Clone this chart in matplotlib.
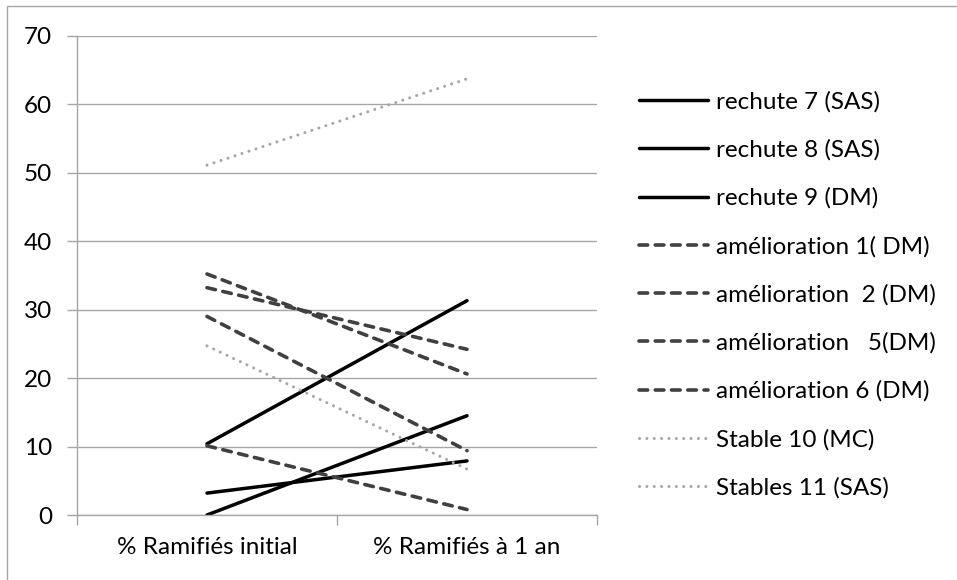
import matplotlib
matplotlib.use("Agg")
import matplotlib.pyplot as plt
from matplotlib.patches import Rectangle

plt.rcParams['font.family'] = ['Lato', 'DejaVu Sans']

categories = ["% Ramifiés initial", "% Ramifiés à 1 an"]
series_names = [
    "rechute 7 (SAS)", "rechute 8 (SAS)", "rechute 9 (DM)",
    "amélioration 1( DM)", "amélioration  2 (DM)", "amélioration   5(DM)",
    "amélioration 6 (DM)", "Stable 10 (MC)", "Stables 11 (SAS)",
]
rechute7 = [10.4, 31.3]
rechute8 = [0.0, 14.5]
rechute9 = [3.2, 7.9]
amelioration1 = [35.2, 20.6]
amelioration2 = [33.2, 24.2]
amelioration5 = [29.0, 9.4]
amelioration6 = [10.1, 0.8]
stable10 = [51.1, 63.7]
stables11 = [24.7, 6.7]
values = [rechute7, rechute8, rechute9, amelioration1, amelioration2,
          amelioration5, amelioration6, stable10, stables11]
groups = ["solid"] * 3 + ["dashed"] * 4 + ["dotted"] * 2
yticks = [0, 10, 20, 30, 40, 50, 60, 70]

W, H = 957, 580
FS = 17.5
fig = plt.figure(figsize=(W / 100, H / 100), dpi=100)
fig.patch.set_facecolor("white")
# chart border (left/top visible)
fig.patches.append(Rectangle((7 / W, -0.1), 1.2, (H - 6) / H + 0.1,
                             transform=fig.transFigure, fill=False,
                             edgecolor="#a6a6a6", lw=1.0))

ax = fig.add_axes([77 / W, (H - 515) / H, (597 - 77) / W, (515 - 35.7) / H])
xs = [0.5, 1.5]
styles = {
    "solid": dict(color="#000000", lw=2.5, linestyle="-", solid_capstyle="round"),
    "dashed": dict(color="#404040", lw=2.6, linestyle=(0, (2.4, 2.1)), dash_capstyle="round"),
    "dotted": dict(color="#a6a6a6", lw=2.2, linestyle=(0, (0.01, 2.4)), dash_capstyle="round"),
}
handles = []
for name, vals, g in zip(series_names, values, groups):
    ln, = ax.plot(xs, vals, label=name, **styles[g])
    handles.append(ln)

ax.set_xlim(0, 2)
ax.set_ylim(0, 70)
ax.set_yticks(yticks)
ax.set_yticklabels([str(t) for t in yticks])
ax.set_xticks([0, 1, 2])
ax.set_xticklabels(["", "", ""])
ax.set_xticks(xs, minor=True)
ax.set_xticklabels(categories, minor=True)
ax.tick_params(axis="x", which="major", length=7, width=1, color="#a6a6a6", direction="out")
ax.tick_params(axis="x", which="minor", length=0, pad=16, labelsize=FS)
ax.tick_params(axis="y", length=7, width=1, color="#a6a6a6", pad=11, labelsize=FS)
ax.grid(axis="y", color="#a6a6a6", lw=1.0)
ax.set_axisbelow(True)
for s in ["top", "right"]:
    ax.spines[s].set_visible(False)
for s in ["left", "bottom"]:
    ax.spines[s].set_color("#a6a6a6")
    ax.spines[s].set_linewidth(1.0)

leg = fig.legend(handles=handles, loc="upper left",
                 bbox_to_anchor=(639 / W, (H - 91) / H),
                 frameon=False, fontsize=FS, handlelength=2.85,
                 handletextpad=0.33, labelspacing=1.1, borderpad=0,
                 borderaxespad=0)

fig.savefig("out.png", dpi=100, facecolor="white")
